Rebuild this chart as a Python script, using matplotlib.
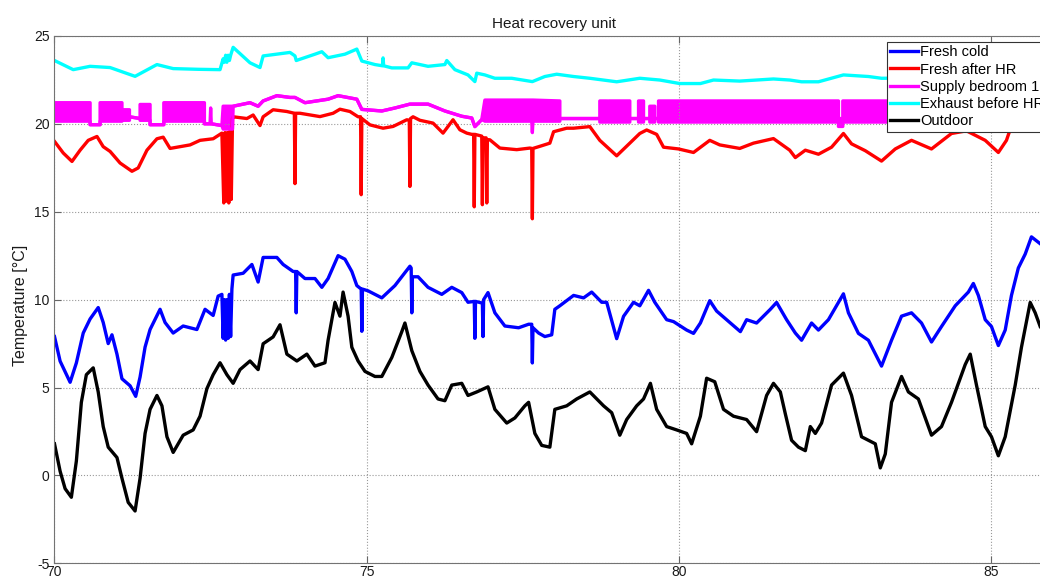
import matplotlib
matplotlib.use('Agg')
import matplotlib.pyplot as plt
import numpy as np

plt.rcParams['font.family'] = ['Liberation Sans', 'DejaVu Sans']
plt.rcParams['axes.unicode_minus'] = False

# Fresh cold (blue)
blue_x = [70.00, 70.09, 70.17, 70.25, 70.35, 70.46, 70.57, 70.70, 70.78, 70.86, 70.92, 71.00, 71.08, 71.21,
          71.30, 71.37, 71.45, 71.53, 71.69, 71.77, 71.90, 72.06, 72.28, 72.41, 72.54, 72.62, 72.68,
          72.70, 72.72, 72.74, 72.76, 72.78, 72.80, 72.82, 72.84, 72.86, 73.02, 73.16, 73.26, 73.34,
          73.56, 73.66, 73.82, 73.86, 73.87, 73.88, 74.01, 74.17, 74.28, 74.38, 74.54, 74.65, 74.76,
          74.84, 74.91, 74.92, 74.93, 75.02, 75.24, 75.45, 75.69, 75.71, 75.72, 75.73, 75.82, 75.98,
          76.20, 76.36, 76.52, 76.62, 76.72, 76.73, 76.74, 76.85, 76.86, 76.87, 76.94, 77.05, 77.21,
          77.43, 77.59, 77.64, 77.65, 77.66, 77.75, 77.85, 77.96, 78.01, 78.09, 78.31, 78.47, 78.60,
          78.76, 78.84, 79.00, 79.11, 79.27, 79.37, 79.51, 79.61, 79.80, 79.91, 80.12, 80.23, 80.34,
          80.49, 80.60, 80.76, 80.98, 81.08, 81.24, 81.46, 81.56, 81.72, 81.86, 81.96, 82.12, 82.23,
          82.39, 82.63, 82.71, 82.87, 83.03, 83.24, 83.40, 83.56, 83.72, 83.88, 84.04, 84.20, 84.42,
          84.63, 84.71, 84.79, 84.90, 85.00, 85.11, 85.22, 85.32, 85.43, 85.54, 85.64, 85.78]
blue_y = [7.9, 6.5, 5.9, 5.3, 6.4, 8.1, 8.9, 9.55, 8.7, 7.5, 8.0, 6.9, 5.5, 5.1,
          4.5, 5.6, 7.3, 8.3, 9.45, 8.7, 8.1, 8.5, 8.3, 9.45, 9.1, 10.2, 10.3,
          7.8, 10.0, 7.7, 10.0, 7.8, 10.3, 7.9, 10.6, 11.4, 11.5, 12.0, 11.0, 12.4,
          12.4, 12.0, 11.6, 11.6, 9.25, 11.6, 11.2, 11.2, 10.7, 11.2, 12.5, 12.3, 11.6,
          10.8, 10.6, 8.2, 10.6, 10.5, 10.1, 10.8, 11.9, 11.8, 9.25, 11.3, 11.3, 10.7,
          10.3, 10.7, 10.4, 9.85, 9.9, 7.8, 9.9, 9.8, 7.9, 10.0, 10.4, 9.25, 8.5,
          8.4, 8.6, 8.6, 6.4, 8.4, 8.1, 7.9, 8.0, 9.45, 9.65, 10.24, 10.1, 10.43,
          9.85, 9.85, 7.78, 9.05, 9.85, 9.65, 10.53, 9.85, 8.86, 8.75, 8.27, 8.08, 8.67,
          9.94, 9.35, 8.86, 8.18, 8.86, 8.67, 9.45, 9.84, 8.86, 8.1, 7.69, 8.67, 8.27,
          8.86, 10.33, 9.25, 8.08, 7.69, 6.22, 7.69, 9.06, 9.25, 8.67, 7.59, 8.47, 9.65,
          10.43, 10.92, 10.24, 8.86, 8.47, 7.39, 8.27, 10.24, 11.8, 12.59, 13.57, 13.18]

# Fresh after HR (red)
red_x = [70.00, 70.14, 70.28, 70.41, 70.54, 70.68, 70.78, 70.89, 71.05, 71.24, 71.34, 71.48, 71.64, 71.74,
         71.85, 72.01, 72.17, 72.33, 72.54, 72.68, 72.71, 72.73, 72.75, 72.77, 72.79, 72.81, 72.83, 72.85,
         72.86, 73.08, 73.18, 73.29, 73.34, 73.50, 73.72, 73.84, 73.85, 73.86, 73.93, 74.25, 74.46, 74.57,
         74.73, 74.86, 74.90, 74.91, 74.92, 75.05, 75.26, 75.42, 75.64, 75.68, 75.69, 75.70, 75.74, 75.85,
         76.06, 76.22, 76.38, 76.49, 76.60, 76.68, 76.71, 76.72, 76.73, 76.84, 76.85, 76.86, 76.91, 76.92,
         76.93, 76.97, 77.13, 77.40, 77.61, 77.64, 77.65, 77.66, 77.77, 77.93, 77.99, 78.20, 78.31, 78.57,
         78.73, 79.00, 79.21, 79.37, 79.48, 79.64, 79.75, 79.99, 80.23, 80.49, 80.65, 80.97, 81.19, 81.51,
         81.77, 81.86, 82.02, 82.23, 82.44, 82.63, 82.76, 82.98, 83.24, 83.46, 83.72, 84.04, 84.36, 84.60,
         84.90, 85.11, 85.24, 85.35, 85.50, 85.78]
red_y = [19.0, 18.34, 17.86, 18.5, 19.06, 19.28, 18.7, 18.43, 17.77, 17.3, 17.49, 18.5, 19.15, 19.24,
         18.6, 18.7, 18.8, 19.06, 19.15, 19.47, 15.5, 19.5, 15.6, 19.5, 15.5, 19.6, 15.7, 20.3,
         20.4, 20.3, 20.5, 19.9, 20.4, 20.8, 20.7, 20.6, 16.6, 20.6, 20.6, 20.41, 20.6, 20.83,
         20.7, 20.4, 20.4, 15.97, 20.3, 19.94, 19.75, 19.85, 20.23, 20.2, 16.44, 20.3, 20.4, 20.2,
         20.04, 19.47, 20.23, 19.66, 19.47, 19.4, 19.4, 15.28, 19.4, 19.3, 15.4, 19.2, 19.2, 15.5,
         19.1, 19.09, 18.62, 18.53, 18.62, 18.6, 14.6, 18.6, 18.72, 18.9, 19.55, 19.75, 19.75, 19.84,
         19.06, 18.18, 18.9, 19.45, 19.65, 19.4, 18.67, 18.57, 18.37, 19.06, 18.8, 18.6, 18.9, 19.16,
         18.5, 18.08, 18.5, 18.27, 18.67, 19.45, 18.86, 18.47, 17.88, 18.57, 19.06, 18.57, 19.45, 19.6,
         19.06, 18.37, 19.06, 20.2, 20.6, 20.8]

# Supply bedroom 1 (magenta): lower / upper envelope of the switching signal
magenta_x = [70.00, 70.57, 70.57, 70.73, 70.73, 71.08, 71.08, 71.20, 71.20, 71.37, 71.37, 71.53, 71.53,
             71.75, 71.75, 72.40, 72.40, 72.49, 72.50, 72.51, 72.68, 72.70, 72.85, 72.86, 73.13, 73.26,
             73.34, 73.56, 73.77, 73.85, 74.01, 74.38, 74.54, 74.84, 74.92, 75.24, 75.45, 75.69, 75.98,
             76.25, 76.52, 76.68, 76.73, 76.84, 76.89, 77.64, 77.65, 77.66, 78.09, 78.09, 78.73, 78.73,
             78.84, 78.84, 78.87, 78.87, 79.21, 79.21, 79.35, 79.35, 79.43, 79.43, 79.53, 79.53, 79.61,
             79.61, 79.67, 79.67, 82.55, 82.55, 82.62, 82.62, 85.78]
magenta_lo = [20.15, 20.15, 19.95, 19.95, 20.15, 20.15, 20.2, 20.2, 20.4, 20.3, 20.2, 20.2, 19.95,
              19.95, 20.15, 20.15, 20.0, 20.0, 20.0, 20.0, 19.9, 19.7, 19.7, 21.0, 21.2, 21.0,
              21.3, 21.6, 21.5, 21.5, 21.2, 21.4, 21.6, 21.4, 20.82, 20.73, 20.9, 21.12, 21.12,
              20.73, 20.43, 20.33, 19.84, 20.24, 20.15, 20.15, 19.5, 20.15, 20.15, 20.3, 20.3, 20.1,
              20.1, 20.3, 20.3, 20.1, 20.1, 20.3, 20.3, 20.1, 20.1, 20.3, 20.3, 20.1, 20.1,
              20.3, 20.3, 20.1, 20.1, 19.85, 19.85, 20.1, 20.1]
magenta_hi = [21.2, 21.2, 19.95, 19.95, 21.2, 21.2, 20.8, 20.8, 20.4, 20.3, 21.1, 21.1, 19.95,
              19.95, 21.2, 21.2, 20.0, 20.0, 20.9, 20.0, 19.9, 21.0, 21.0, 21.0, 21.2, 21.0,
              21.3, 21.6, 21.5, 21.5, 21.2, 21.4, 21.6, 21.4, 20.82, 20.73, 20.9, 21.12, 21.12,
              20.73, 20.43, 20.33, 19.84, 20.24, 21.35, 21.35, 21.35, 21.35, 21.3, 20.3, 20.3, 21.3,
              21.3, 20.3, 20.3, 21.3, 21.3, 20.3, 20.3, 21.3, 21.3, 20.3, 20.3, 21.0, 21.0,
              20.3, 20.3, 21.3, 21.3, 20.3, 20.3, 21.3, 21.3]

# Exhaust before HR (cyan)
cyan_x = [70.00, 70.30, 70.57, 70.89, 71.29, 71.64, 71.90, 72.30, 72.65, 72.70, 72.72, 72.74, 72.76, 72.78,
          72.80, 72.82, 72.86, 73.13, 73.29, 73.34, 73.77, 73.85, 73.87, 74.17, 74.28, 74.38, 74.65, 74.84,
          74.92, 75.13, 75.25, 75.26, 75.27, 75.40, 75.66, 75.72, 75.98, 76.25, 76.28, 76.41, 76.62, 76.73,
          76.76, 76.89, 77.05, 77.32, 77.65, 77.85, 78.04, 78.31, 78.57, 79.00, 79.37, 79.69, 80.01, 80.34,
          80.55, 80.97, 81.51, 81.77, 81.96, 82.23, 82.63, 83.03, 83.24, 83.60, 84.50, 85.78]
cyan_y = [23.6, 23.08, 23.27, 23.2, 22.7, 23.37, 23.14, 23.1, 23.08, 23.7, 23.5, 23.9, 23.5, 23.9,
          23.6, 23.9, 24.35, 23.47, 23.2, 23.86, 24.06, 23.86, 23.6, 23.96, 24.1, 23.76, 23.96, 24.25,
          23.57, 23.37, 23.3, 23.75, 23.3, 23.18, 23.18, 23.47, 23.27, 23.37, 23.6, 23.08, 22.78, 22.4,
          22.88, 22.78, 22.59, 22.59, 22.4, 22.69, 22.82, 22.69, 22.59, 22.39, 22.59, 22.49, 22.29, 22.29,
          22.49, 22.43, 22.55, 22.49, 22.39, 22.39, 22.78, 22.69, 22.59, 22.6, 22.7, 22.8]

# Outdoor (black)
black_x = [70.00, 70.09, 70.17, 70.27, 70.35, 70.43, 70.51, 70.62, 70.70, 70.78, 70.86, 71.00, 71.08, 71.18,
           71.29, 71.37, 71.45, 71.53, 71.64, 71.72, 71.80, 71.90, 72.06, 72.22, 72.33, 72.44, 72.54, 72.65,
           72.76, 72.86, 72.97, 73.13, 73.26, 73.34, 73.50, 73.61, 73.72, 73.88, 74.04, 74.17, 74.33, 74.38,
           74.49, 74.57, 74.62, 74.70, 74.76, 74.86, 74.97, 75.13, 75.24, 75.40, 75.56, 75.61, 75.72, 75.85,
           75.98, 76.14, 76.25, 76.36, 76.52, 76.62, 76.76, 76.94, 77.05, 77.24, 77.37, 77.53, 77.59, 77.69,
           77.80, 77.93, 78.01, 78.20, 78.36, 78.57, 78.79, 78.92, 79.05, 79.16, 79.32, 79.43, 79.54, 79.64,
           79.80, 79.96, 80.12, 80.20, 80.34, 80.44, 80.57, 80.71, 80.87, 81.08, 81.24, 81.40, 81.51, 81.62,
           81.70, 81.80, 81.91, 82.02, 82.10, 82.18, 82.28, 82.44, 82.63, 82.76, 82.92, 83.14, 83.22, 83.30,
           83.40, 83.56, 83.67, 83.83, 84.04, 84.20, 84.36, 84.58, 84.66, 84.76, 84.90, 85.00, 85.11, 85.22,
           85.38, 85.48, 85.62, 85.70, 85.78]
black_y = [1.8, 0.24, -0.75, -1.24, 0.82, 4.16, 5.73, 6.12, 4.75, 2.78, 1.61, 1.02, -0.16, -1.53,
           -2.02, -0.16, 2.39, 3.76, 4.55, 3.96, 2.2, 1.31, 2.29, 2.59, 3.37, 4.94, 5.73, 6.41,
           5.73, 5.24, 6.02, 6.51, 6.02, 7.49, 7.88, 8.57, 6.9, 6.51, 6.9, 6.22, 6.41, 7.69,
           9.84, 9.06, 10.43, 9.06, 7.29, 6.51, 5.92, 5.63, 5.63, 6.71, 8.18, 8.67, 7.1, 5.92,
           5.14, 4.35, 4.25, 5.14, 5.24, 4.55, 4.75, 5.04, 3.76, 2.98, 3.27, 3.96, 4.16, 2.39,
           1.71, 1.61, 3.76, 3.96, 4.35, 4.75, 3.96, 3.57, 2.29, 3.18, 3.96, 4.35, 5.24, 3.76,
           2.78, 2.59, 2.39, 1.8, 3.37, 5.53, 5.33, 3.76, 3.37, 3.18, 2.49, 4.55, 5.24, 4.75,
           3.5, 2.0, 1.61, 1.41, 2.78, 2.39, 2.98, 5.14, 5.82, 4.55, 2.2, 1.8, 0.43, 1.22,
           4.16, 5.63, 4.75, 4.35, 2.29, 2.78, 4.16, 6.31, 6.9, 5.14, 2.78, 2.2, 1.12, 2.2,
           5.14, 7.29, 9.84, 9.25, 8.47]

labels = ['Fresh cold', 'Fresh after HR', 'Supply bedroom 1', 'Exhaust before HR', 'Outdoor']
colors = ['#0000ff', '#ff0000', '#ff00ff', '#00ffff', '#000000']

fig = plt.figure(figsize=(10.4, 5.79), dpi=100)
ax = fig.add_axes([0.0524, 0.027, 0.961, 0.911])

lw = 2.4
ax.plot(blue_x, blue_y, color=colors[0], lw=lw, label=labels[0])
ax.plot(red_x, red_y, color=colors[1], lw=lw, label=labels[1])
ax.fill_between(magenta_x, magenta_lo, magenta_hi, color=colors[2], lw=0)
ax.plot(magenta_x, magenta_lo, color=colors[2], lw=lw, label=labels[2])
ax.plot(magenta_x, magenta_hi, color=colors[2], lw=lw)
ax.plot(cyan_x, cyan_y, color=colors[3], lw=lw, label=labels[3])
ax.plot(black_x, black_y, color=colors[4], lw=lw, label=labels[4])

ax.set_xlim(70, 86)
ax.set_ylim(-5, 25)
ax.set_xticks([70, 75, 80, 85])
ax.set_yticks([-5, 0, 5, 10, 15, 20, 25])
ax.grid(True, linestyle=':', color='0.6', linewidth=0.8)
ax.tick_params(direction='in', length=5, top=True, right=True, labelsize=10,
               color='0.4', labelcolor='0.1')
ax.tick_params(axis='x', pad=1.5)
for s in ax.spines.values():
    s.set_color('0.45')

ax.set_title('Heat recovery unit', fontsize=11, color='0.1', pad=6)
ax.set_ylabel('Temperature [\u00b0C]', fontsize=11.5, color='0.1')
ax.yaxis.set_label_coords(-0.027, 0.49)

leg = ax.legend(loc='upper right', fontsize=10.5, fancybox=False, framealpha=1,
                edgecolor='0.2', borderaxespad=0.4, handlelength=1.9, handletextpad=0.15,
                labelspacing=0.22, borderpad=0.25)
leg.get_frame().set_linewidth(0.8)

fig.savefig('out.png', dpi=100)
